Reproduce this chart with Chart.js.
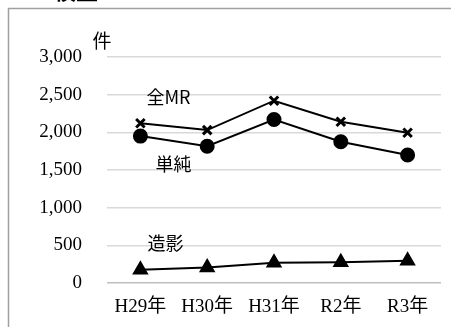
<!DOCTYPE html>
<html>
<head>
<meta charset="utf-8">
<script src="https://cdn.jsdelivr.net/npm/chart.js@4/dist/chart.umd.min.js"></script>
<style>
  html, body { margin: 0; padding: 0; background: #fff; }
  #wrap { position: absolute; left: 0; top: 0; width: 451px; height: 327px; }
</style>
</head>
<body>
<div id="wrap"><canvas id="chart"></canvas></div>
<script>
// data
const years = ["H29年", "H30年", "H31年", "R2年", "R3年"];
const totalMR = [2120, 2030, 2420, 2140, 1995];
const plain = [1950, 1815, 2170, 1875, 1700];
const contrast = [175, 205, 270, 275, 295];

const seriesLabels = ["全MR", "単純", "造影"];
const yTicks = [0, 500, 1000, 1500, 2000, 2500, 3000];
const unitLabel = "件";
const titleText = "検査";

const serif = "'Liberation Serif', 'Noto Sans CJK JP', serif";
const gothic = "'Noto Sans CJK JP', sans-serif";
const numberFormatter = new Intl.NumberFormat("en-US");

// frame, cut-off title, unit and series labels
const decorations = {
  id: "decorations",
  beforeDraw(chart) {
    const { ctx } = chart;
    ctx.save();
    ctx.fillStyle = "#fff";
    ctx.fillRect(0, 0, chart.width, chart.height);
    ctx.strokeStyle = "#a0a0a0";
    ctx.lineWidth = 1.5;
    ctx.beginPath();
    ctx.moveTo(8.5, chart.height + 5);
    ctx.lineTo(8.5, 8.5);
    ctx.lineTo(chart.width + 5, 8.5);
    ctx.stroke();
    ctx.restore();
  },
  afterDraw(chart) {
    const { ctx, chartArea } = chart;
    ctx.save();
    ctx.fillStyle = "#000";
    ctx.textAlign = "center";
    ctx.textBaseline = "middle";

    ctx.font = "bold 22px " + gothic;
    ctx.fillText(titleText, 76, -9);

    ctx.font = "19px " + gothic;
    ctx.fillText(unitLabel, chartArea.left - 5, chartArea.top - 16);

    ctx.font = "18px " + gothic;
    const offsets = [[28, -26], [33, 28], [25, -27]];
    chart.data.datasets.forEach((ds, i) => {
      const pt = chart.getDatasetMeta(i).data[0];
      ctx.fillText(seriesLabels[i], pt.x + offsets[i][0], pt.y + offsets[i][1]);
    });
    ctx.restore();
  },
};

const lineStyle = {
  borderColor: "#000",
  backgroundColor: "#000",
  pointBorderColor: "#000",
  pointBackgroundColor: "#000",
  borderWidth: 2,
  tension: 0,
  fill: false,
};

new Chart(document.getElementById("chart"), {
  type: "line",
  data: {
    labels: years,
    datasets: [
      { ...lineStyle, data: totalMR, pointStyle: "crossRot", pointRadius: 6, pointBorderWidth: 3 },
      { ...lineStyle, data: plain, pointStyle: "circle", pointRadius: 6.5 },
      { ...lineStyle, data: contrast, pointStyle: "triangle", pointRadius: 7.5 },
    ],
  },
  options: {
    responsive: true,
    maintainAspectRatio: false,
    animation: false,
    layout: { padding: { left: 0, right: 10, top: 57, bottom: 0 } },
    plugins: {
      legend: { display: false },
      tooltip: { enabled: false },
    },
    scales: {
      x: {
        offset: true,
        grid: { display: false, drawTicks: false },
        border: { display: false },
        ticks: { color: "#000", font: { family: serif, size: 19 }, padding: 13 },
        afterFit: (scale) => { scale.height = 44; },
      },
      y: {
        min: 0,
        max: 3000,
        afterBuildTicks: (scale) => { scale.ticks = yTicks.map((v) => ({ value: v })); },
        grid: {
          drawTicks: false,
          color: (c) => (c.tick && c.tick.value === 0 ? "#bfbfbf" : "#d9d9d9"),
          lineWidth: 1.5,
        },
        border: { display: false },
        ticks: {
          color: "#000",
          font: { family: serif, size: 19 },
          padding: 25,
          callback: (v) => numberFormatter.format(v),
        },
        afterFit: (scale) => { scale.width = 107; },
      },
    },
  },
  plugins: [decorations],
});
</script>
</body>
</html>
